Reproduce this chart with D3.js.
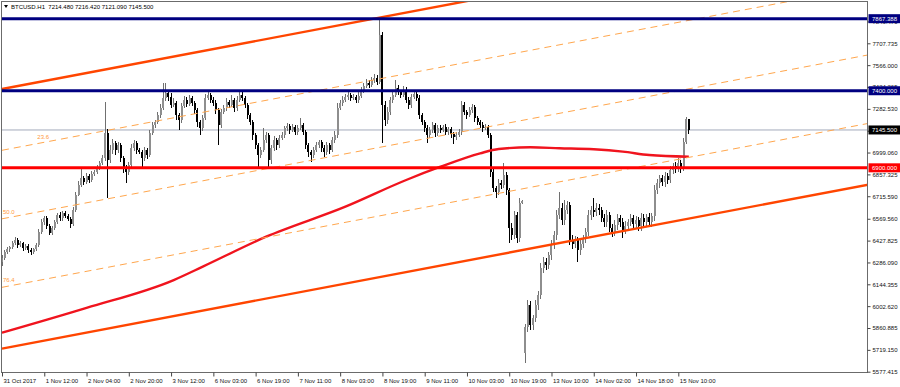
<!DOCTYPE html>
<html>
<head>
<meta charset="utf-8">
<script src="https://cdn.jsdelivr.net/npm/d3@7"></script>
<style>
  body { margin: 0; background: #fff; }
  svg { display: block; }
  text { font-family: "Liberation Sans", Arial, sans-serif; font-size: 6px; }
</style>
</head>
<body>
<script>
// ---- data ----
const chartTitle = "BTCUSD.H1  7214.480 7216.420 7121.090 7145.500"

// hourly bars, index 0 = 31 Oct 2017 20:00
const firstOpen = 6289
const gapOpens = { 198: 5700 }   // weekend gap bar
const closes = [
  6315, 6354, 6373, 6386, 6412, 6432, 6399, 6412, 6380, 6393,
  6367, 6354, 6373, 6399, 6484, 6549, 6575, 6523, 6477, 6510,
  6549, 6594, 6575, 6607, 6588, 6568, 6536, 6627, 6724, 6789,
  6834, 6808, 6847, 6821, 6860, 6873, 6899, 6931, 6964, 7126,
  6951, 7016, 7061, 7016, 7048, 6964, 6899, 6873, 6918, 7029,
  7061, 7016, 7003, 6964, 7016, 6983, 7126, 7178, 7197, 7243,
  7288, 7353, 7386, 7360, 7308, 7321, 7243, 7210, 7301, 7340,
  7314, 7353, 7321, 7275, 7197, 7158, 7223, 7353, 7373, 7340,
  7321, 7275, 7178, 7262, 7288, 7327, 7308, 7340, 7288, 7340,
  7373, 7353, 7308, 7243, 7197, 7113, 7048, 6983, 7016, 7081,
  7113, 6951, 7029, 7081, 7048, 7094, 7113, 7158, 7171, 7145,
  7165, 7133, 7158, 7178, 7133, 7048, 7003, 6983, 7016, 7048,
  7068, 7029, 7003, 7048, 7016, 7081, 7113, 7288, 7321, 7340,
  7360, 7373, 7353, 7360, 7340, 7366, 7405, 7431, 7450, 7437,
  7470, 7483, 7457, 7762, 7308, 7210, 7262, 7340, 7373, 7418,
  7392, 7373, 7405, 7340, 7308, 7360, 7379, 7353, 7243, 7197,
  7158, 7113, 7145, 7178, 7126, 7158, 7145, 7165, 7133, 7152,
  7120, 7100, 7113, 7133, 7308, 7262, 7243, 7275, 7295, 7223,
  7197, 7178, 7158, 7165, 7113, 6873, 6769, 6743, 6802, 6789,
  6854, 6756, 6510, 6464, 6594, 6445, 6672, 6685, 5868, 6010,
  5881, 5926, 6010, 6075, 6250, 6289, 6270, 6334, 6399, 6464,
  6594, 6640, 6562, 6627, 6659, 6432, 6406, 6432, 6367, 6406,
  6445, 6484, 6594, 6627, 6614, 6640, 6627, 6575, 6549, 6594,
  6510, 6484, 6529, 6575, 6549, 6497, 6523, 6549, 6575, 6536,
  6562, 6523, 6575, 6549, 6581, 6549, 6588, 6756, 6802, 6834,
  6808, 6847, 6821, 6886, 6912, 6899, 6931, 6899, 7068, 7214.48,
  7145.5
]
// wick lengths beyond the body (price units)
const upWick = [
  19, 12, 15, 10, 14, 19, 12, 15, 10, 13,
  12, 16, 10, 14, 20, 18, 12, 15, 10, 14,
  12, 15, 18, 14, 10, 12, 15, 20, 18, 25,
  71, 15, 20, 12, 18, 14, 20, 15, 22, 201,
  25, 30, 28, 15, 20, 12, 15, 18, 20, 25,
  18, 15, 12, 10, 20, 15, 22, 18, 15, 20,
  25, 97, 64, 20, 25, 30, 15, 12, 20, 25,
  18, 22, 15, 12, 15, 10, 20, 25, 32, 15,
  18, 20, 15, 22, 18, 25, 15, 30, 12, 25,
  19, 20, 15, 12, 10, 12, 15, 10, 18, 77,
  20, 15, 22, 25, 15, 18, 20, 15, 22, 12,
  18, 15, 20, 45, 12, 10, 15, 12, 18, 20,
  15, 12, 18, 20, 15, 22, 25, 30, 20, 25,
  18, 22, 15, 20, 15, 25, 20, 18, 25, 20,
  22, 25, 20, 105, 20, 25, 30, 22, 25, 52,
  20, 15, 25, 18, 22, 20, 25, 15, 18, 12,
  15, 20, 18, 22, 15, 20, 18, 15, 20, 12,
  15, 12, 18, 20, 25, 20, 15, 22, 20, 15,
  12, 15, 18, 20, 15, 10, 20, 15, 25, 18,
  77, 20, 15, 30, 25, 20, 35, 5, 20, 30,
  25, 20, 30, 25, 35, 30, 25, 20, 30, 25,
  35, 103, 30, 64, 25, 20, 30, 25, 20, 25,
  20, 25, 30, 25, 77, 30, 25, 20, 25, 30,
  20, 25, 30, 25, 20, 25, 30, 20, 25, 20,
  25, 20, 30, 25, 20, 25, 20, 30, 25, 20,
  20, 25, 20, 25, 20, 25, 30, 20, 25, 16,
  1.94
]
const downWick = [
  26, 15, 12, 18, 10, 14, 20, 12, 18, 15,
  20, 18, 12, 15, 10, 12, 18, 20, 15, 12,
  15, 12, 18, 20, 12, 15, 25, 12, 15, 10,
  15, 20, 12, 18, 15, 12, 15, 10, 12, 20,
  247, 20, 25, 30, 20, 25, 30, 71, 20, 15,
  20, 25, 15, 59, 20, 25, 15, 12, 18, 15,
  20, 15, 18, 25, 20, 15, 30, 65, 20, 15,
  20, 15, 18, 25, 30, 45, 20, 15, 12, 18,
  20, 25, 130, 20, 15, 18, 20, 15, 25, 18,
  15, 20, 18, 25, 20, 30, 25, 78, 20, 15,
  20, 46, 25, 20, 30, 20, 15, 18, 20, 25,
  15, 20, 18, 15, 20, 25, 30, 45, 20, 15,
  20, 25, 33, 20, 25, 15, 20, 18, 15, 20,
  15, 20, 18, 15, 20, 18, 15, 20, 15, 18,
  15, 18, 20, 15, 247, 40, 25, 20, 18, 15,
  20, 18, 15, 20, 25, 18, 15, 20, 25, 20,
  25, 52, 20, 18, 25, 20, 18, 15, 20, 18,
  25, 48, 20, 15, 18, 20, 25, 15, 20, 25,
  20, 18, 25, 15, 20, 30, 25, 39, 20, 25,
  20, 30, 98, 30, 25, 35, 25, 5, 66, 30,
  35, 30, 25, 30, 25, 30, 35, 25, 30, 25,
  30, 25, 35, 30, 25, 30, 35, 25, 78, 30,
  25, 30, 25, 35, 30, 25, 30, 25, 35, 30,
  25, 30, 25, 35, 30, 52, 25, 30, 25, 30,
  25, 30, 35, 25, 30, 25, 35, 30, 25, 30,
  25, 30, 25, 20, 25, 30, 25, 30, 20, 15,
  24.41
]

// moving average (red curve), [bar, price]
const maPoints = [
  [0, 5830], [32, 5991], [65, 6172], [76, 6259], [100, 6453], [130, 6648],
  [153, 6821], [166, 6907], [181, 6994], [188, 7022], [200, 7033], [211, 7027],
  [224, 7020], [235, 7005], [245, 6983], [260, 6972]
]

// channel lines [bar, price] and fibo levels inside it
const channelUpper = [[0, 7411], [330, 8481]]
const channelLower = [[0, 5727.5], [330, 6797.5]]
const fibLevels = [23.6, 50.0, 76.4]
const fibLabelBars = [13, 0, 0]

// horizontal levels
const levelPrices = [7867.388, 7400, 6900]
const levelColors = ["#000080", "#000080", "#ff0000"]
const lastPrice = 7145.5

// axes
const xTickBars = [0, 16, 32, 48, 64, 80, 96, 112, 128, 144, 160, 176, 192, 208, 224, 240, 256]
const xTickLabels = ["31 Oct 2017", "1 Nov 12:00", "2 Nov 04:00", "2 Nov 20:00", "3 Nov 12:00",
  "6 Nov 03:00", "6 Nov 19:00", "7 Nov 11:00", "8 Nov 03:00", "8 Nov 19:00", "9 Nov 11:00",
  "10 Nov 03:00", "10 Nov 19:00", "13 Nov 10:00", "14 Nov 02:00", "14 Nov 18:00", "15 Nov 10:00"]
const yTickValues = [7849.470, 7707.735, 7566.000, 7424.265, 7282.530, 7140.795, 6999.060,
  6857.325, 6715.590, 6569.560, 6427.825, 6286.090, 6144.355, 6002.620, 5860.885, 5719.150, 5577.415]

// ---- layout ----
const width = 900, height = 387
const plot = { left: 1.5, right: 867.5, top: 1.5, bottom: 372.5 }

const svg = d3.select("body").append("svg")
  .attr("width", width)
  .attr("height", height)

const xScale = d3.scaleLinear().domain([0, 256]).range([2, 678.3])
const yScale = d3.scaleLinear().domain([5577.415, 7707.735]).range([371.7, 43.3])

svg.append("clipPath").attr("id", "plotclip")
  .append("rect")
  .attr("x", plot.left).attr("y", plot.top)
  .attr("width", plot.right - plot.left).attr("height", plot.bottom - plot.top)

const g = svg.append("g").attr("clip-path", "url(#plotclip)")

// current price line (under candles)
g.append("line")
  .attr("x1", plot.left).attr("x2", plot.right)
  .attr("y1", yScale(lastPrice)).attr("y2", yScale(lastPrice))
  .attr("stroke", "#a3abbb").attr("stroke-width", 1)

// candles
const bars = closes.map((c, i) => {
  let o = i === 0 ? firstOpen : closes[i - 1]
  if (gapOpens[i] !== undefined) o = gapOpens[i]
  return { i: i, o: o, c: c, h: Math.max(o, c) + upWick[i], l: Math.min(o, c) - downWick[i] }
})

const candles = g.append("g").attr("shape-rendering", "crispEdges")
candles.selectAll("line.wick").data(bars).enter().append("line")
  .attr("class", "wick")
  .attr("x1", d => xScale(d.i)).attr("x2", d => xScale(d.i))
  .attr("y1", d => yScale(d.h)).attr("y2", d => yScale(d.l))
  .attr("stroke", d => d.c >= d.o ? "#707070" : "#000")
  .attr("stroke-width", 1)
candles.selectAll("rect.body").data(bars).enter().append("rect")
  .attr("class", "body")
  .attr("x", d => xScale(d.i) - 1)
  .attr("width", 2)
  .attr("y", d => yScale(Math.max(d.o, d.c)))
  .attr("height", d => Math.max(1, Math.abs(yScale(d.o) - yScale(d.c))))
  .attr("fill", d => d.c >= d.o ? "#8e8e8e" : "#000")

// moving average
g.append("path")
  .datum(maPoints)
  .attr("fill", "none")
  .attr("stroke", "#f0141e")
  .attr("stroke-width", 2.4)
  .attr("d", d3.line().x(d => xScale(d[0])).y(d => yScale(d[1])).curve(d3.curveMonotoneX))

// fibo dashed levels
function levelLine(p) {
  // price on a line at fraction p between upper (0) and lower (1)
  return [0, 1].map(k => [channelUpper[k][0],
    channelUpper[k][1] + p * (channelLower[k][1] - channelUpper[k][1])])
}
fibLevels.forEach((lv, j) => {
  const pts = levelLine(lv / 100)
  g.append("line")
    .attr("x1", xScale(pts[0][0])).attr("y1", yScale(pts[0][1]))
    .attr("x2", xScale(pts[1][0])).attr("y2", yScale(pts[1][1]))
    .attr("stroke", "#ffa64d").attr("stroke-width", 1)
    .attr("stroke-dasharray", "7,5")
  const b = fibLabelBars[j]
  const py = pts[0][1] + (pts[1][1] - pts[0][1]) * (b - pts[0][0]) / (pts[1][0] - pts[0][0])
  g.append("text")
    .attr("x", xScale(b) + 1).attr("y", yScale(py) - 5)
    .attr("fill", "#ff9a3c")
    .text(lv.toFixed(1))
})

// channel lines
;[channelUpper, channelLower].forEach(pts => {
  g.append("line")
    .attr("x1", xScale(pts[0][0])).attr("y1", yScale(pts[0][1]))
    .attr("x2", xScale(pts[1][0])).attr("y2", yScale(pts[1][1]))
    .attr("stroke", "#ff4500").attr("stroke-width", 2.4)
})

// horizontal levels
levelPrices.forEach((p, j) => {
  g.append("line")
    .attr("x1", plot.left).attr("x2", plot.right)
    .attr("y1", yScale(p)).attr("y2", yScale(p))
    .attr("stroke", levelColors[j]).attr("stroke-width", 3)
})

// frame
svg.append("rect")
  .attr("x", plot.left).attr("y", plot.top)
  .attr("width", plot.right - plot.left).attr("height", plot.bottom - plot.top)
  .attr("fill", "none").attr("stroke", "#6b6b6b").attr("stroke-width", 1)

// bottom axis
const xAxis = svg.append("g")
  .attr("transform", "translate(0," + plot.bottom + ")")
  .call(d3.axisBottom(xScale).tickValues(xTickBars)
    .tickFormat((d, i) => xTickLabels[i]).tickSize(4).tickPadding(2))
xAxis.select(".domain").remove()
xAxis.selectAll("line").attr("stroke", "#444")
xAxis.selectAll("text")
  .attr("text-anchor", "start").attr("x", 1).attr("dy", "0.71em")
  .attr("fill", "#111")
  .style("font-family", "'Liberation Sans', Arial, sans-serif").style("font-size", "6px")

// right axis
const yAxis = svg.append("g")
  .attr("transform", "translate(" + plot.right + ",0)")
  .call(d3.axisRight(yScale).tickValues(yTickValues)
    .tickFormat(d3.format(".3f")).tickSize(3).tickPadding(2))
yAxis.select(".domain").remove()
yAxis.selectAll("line").attr("stroke", "#444")
yAxis.selectAll("text")
  .attr("fill", "#111")
  .style("font-family", "'Liberation Sans', Arial, sans-serif").style("font-size", "6px")

// price tags on the right
const tags = levelPrices.map((p, j) => ({ p: p, bg: levelColors[j] }))
tags.push({ p: lastPrice, bg: "#000" })
const tag = svg.selectAll("g.tag").data(tags).enter().append("g")
  .attr("class", "tag")
  .attr("transform", d => "translate(" + (plot.right + 1) + "," + yScale(d.p) + ")")
tag.append("rect")
  .attr("x", 0).attr("y", -4.5).attr("width", 32).attr("height", 9)
  .attr("fill", d => d.bg)
tag.append("text")
  .attr("x", 3.5).attr("y", 2.2)
  .attr("fill", "#fff")
  .text(d => d3.format(".3f")(d.p))

// title
svg.append("path")
  .attr("d", "M4,5 L8,5 L6,8 Z")
  .attr("fill", "#000")
svg.append("text")
  .attr("x", 11).attr("y", 9)
  .attr("fill", "#000")
  .attr("xml:space", "preserve")
  .style("white-space", "pre")
  .text(chartTitle)
</script>
</body>
</html>
